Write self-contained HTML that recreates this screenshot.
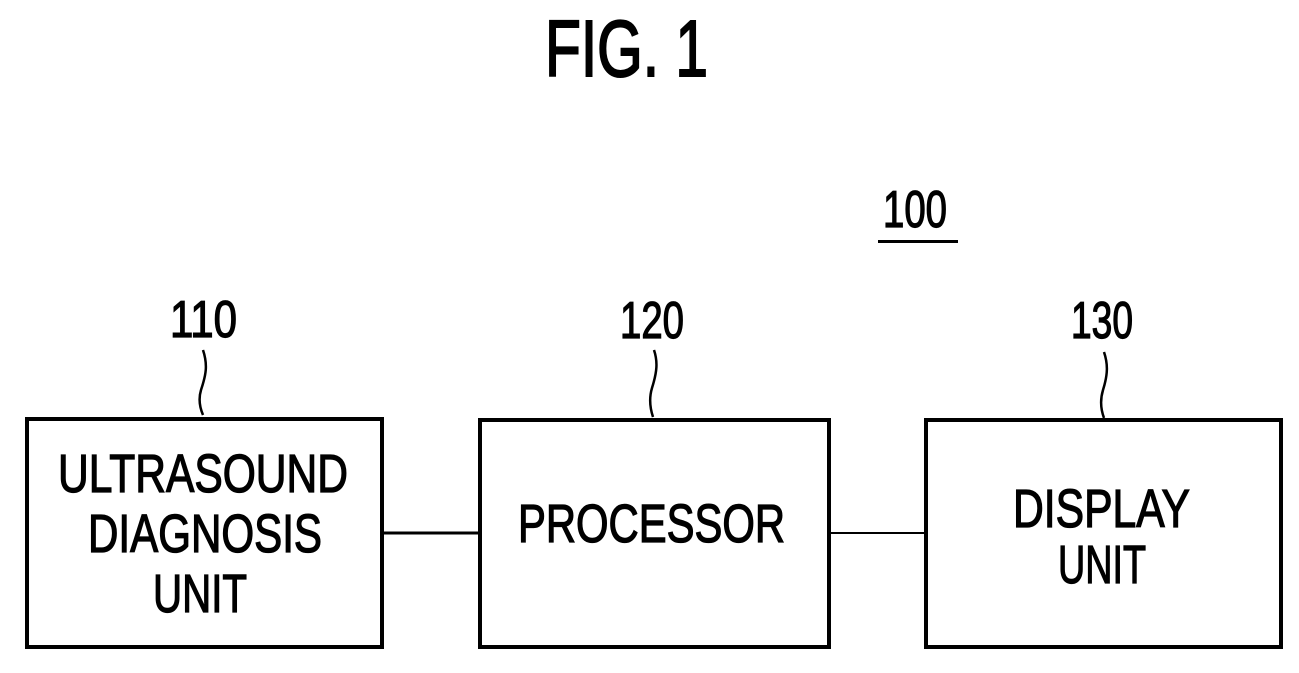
<!DOCTYPE html>
<html><head><meta charset="utf-8"><style>html,body{margin:0;padding:0;background:#fff}svg{display:block}</style></head>
<body>
<svg width="1299" height="673" viewBox="0 0 1299 673" xmlns="http://www.w3.org/2000/svg" font-family="Liberation Sans, Arial, sans-serif" fill="#000">
<g stroke="#000" stroke-width="1.3">
<text x="545" y="76" font-size="80" textLength="163" lengthAdjust="spacingAndGlyphs" stroke-width="2">FIG. 1</text>
<text x="883" y="227" font-size="52" textLength="64" lengthAdjust="spacingAndGlyphs">100</text>
<text x="170" y="337" font-size="52" textLength="67" lengthAdjust="spacingAndGlyphs">110</text>
<text x="620" y="338" font-size="52" textLength="64" lengthAdjust="spacingAndGlyphs">120</text>
<text x="1071" y="338" font-size="52" textLength="62" lengthAdjust="spacingAndGlyphs">130</text>
<g font-size="54">
<text x="58" y="492" textLength="290" lengthAdjust="spacingAndGlyphs">ULTRASOUND</text>
<text x="88" y="552" textLength="234" lengthAdjust="spacingAndGlyphs">DIAGNOSIS</text>
<text x="153" y="612" textLength="94" lengthAdjust="spacingAndGlyphs">UNIT</text>
<text x="518" y="542" textLength="267" lengthAdjust="spacingAndGlyphs">PROCESSOR</text>
<text x="1013" y="527" textLength="177" lengthAdjust="spacingAndGlyphs">DISPLAY</text>
<text x="1058" y="583" textLength="88" lengthAdjust="spacingAndGlyphs">UNIT</text>
</g>
</g>
<rect x="878" y="240" width="80" height="3"/>
<g fill="none" stroke="#000" stroke-width="2.5">
<path d="M203 350 C208 365,206 375,201 390 C198 400,200 408,203 415"/>
<path d="M654 350 C658 362,657 372,652 388 C649 398,650 408,653 417"/>
<path d="M1104 352 C1108 364,1108 374,1103 390 C1100 400,1101 410,1104 418"/>
</g>
<g fill="none" stroke="#000" stroke-width="4">
<rect x="27" y="419" width="355" height="228"/>
<rect x="480" y="420" width="349" height="227"/>
<rect x="926" y="420" width="355" height="227"/>
<line x1="383" y1="533" x2="478" y2="533" stroke-width="3"/>
</g>
<line x1="831" y1="533" x2="924" y2="533" stroke="#000" stroke-width="2"/>
</svg>
</body></html>
